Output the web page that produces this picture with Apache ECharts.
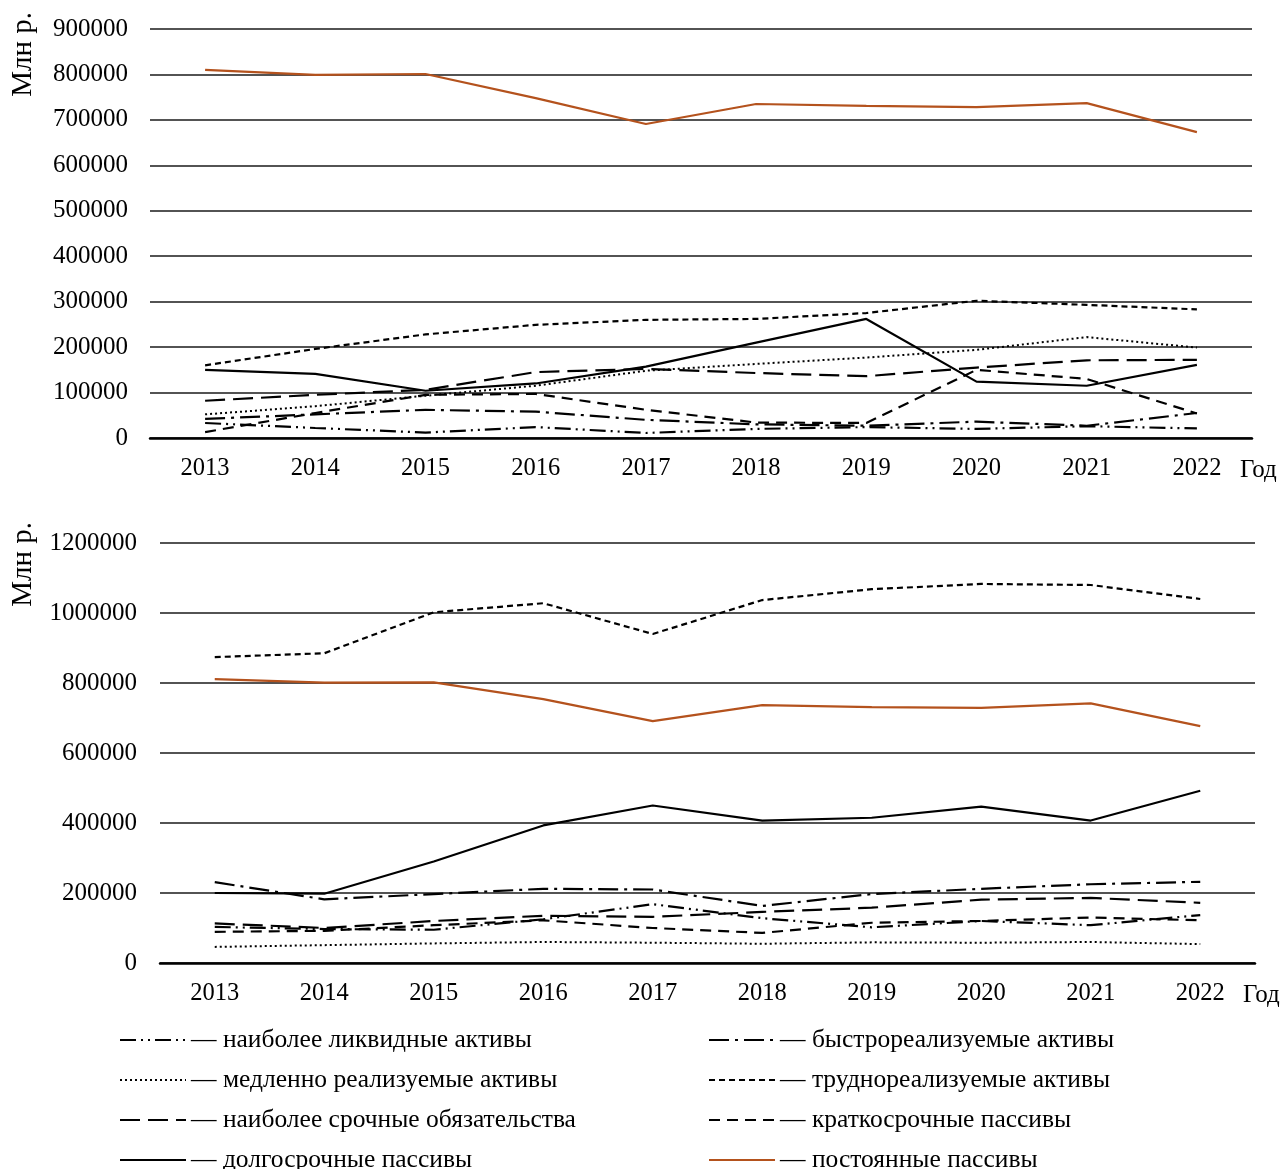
<!DOCTYPE html>
<html><head><meta charset="utf-8">
<script src="https://cdn.jsdelivr.net/npm/echarts@6/dist/echarts.min.js"></script>
<style>html,body{margin:0;padding:0;background:#fff}#c{width:1285px;height:1169px}</style>
</head><body><div id="c"></div>
<script>
const years = ['2013','2014','2015','2016','2017','2018','2019','2020','2021','2022'];
const names = [
  'наиболее ликвидные активы',
  'быстрореализуемые активы',
  'медленно реализуемые активы',
  'труднореализуемые активы',
  'наиболее срочные обязательства',
  'краткосрочные пассивы',
  'долгосрочные пассивы',
  'постоянные пассивы'
];
// Top chart values
const topLiquid    = [33000, 22000, 12000, 24000, 11000, 20000, 24000, 20000, 26000, 21000];
const topQuick     = [42000, 52000, 62000, 58000, 40000, 30000, 27000, 36000, 27000, 55000];
const topSlow      = [52000, 70000, 93000, 115000, 148000, 163000, 177000, 194000, 222000, 199000];
const topHard      = [160000, 196000, 228000, 249000, 260000, 262000, 275000, 302000, 293000, 283000];
const topUrgent    = [82000, 95000, 106000, 145000, 152000, 143000, 136000, 155000, 171000, 172000];
const topShort     = [13000, 55000, 95000, 97000, 62000, 34000, 33000, 150000, 130000, 54000];
const topLong      = [150000, 141000, 104000, 120000, 157000, 210000, 262000, 124000, 115000, 161000];
const topPermanent = [810000, 799000, 801000, 748000, 691000, 735000, 731000, 728000, 737000, 673000];
// Bottom chart values
const botLiquid    = [103000, 97000, 95000, 125000, 168000, 128000, 102000, 120000, 108000, 137000];
const botQuick     = [231000, 182000, 197000, 212000, 210000, 163000, 197000, 212000, 225000, 232000];
const botSlow      = [46000, 51000, 56000, 60000, 58000, 55000, 59000, 58000, 60000, 54000];
const botHard      = [874000, 885000, 1002000, 1028000, 940000, 1037000, 1068000, 1083000, 1080000, 1040000];
const botUrgent    = [113000, 100000, 120000, 135000, 132000, 146000, 158000, 181000, 186000, 172000];
const botShort     = [89000, 92000, 108000, 122000, 100000, 86000, 115000, 120000, 130000, 122000];
const botLong      = [200000, 198000, 290000, 393000, 450000, 407000, 415000, 447000, 407000, 492000];
const botPermanent = [811000, 801000, 802000, 754000, 691000, 737000, 731000, 729000, 742000, 677000];

const topTicks = [0, 900000, 100000];
const botTicks = [0, 1200000, 200000];

const FONT = 'Liberation Serif';
const styles = [
  {color:'#000', width:2.2, type:[16,5,2,5,2,5]},
  {color:'#000', width:2.2, type:[20,6,3,6]},
  {color:'#000', width:2, type:[2,3]},
  {color:'#000', width:2.2, type:[6,4]},
  {color:'#000', width:2.2, type:[20,8]},
  {color:'#000', width:2.2, type:[11,7]},
  {color:'#000', width:2.2, type:'solid'},
  {color:'#B4521D', width:2.2, type:'solid'}
];
const topData = [topLiquid, topQuick, topSlow, topHard, topUrgent, topShort, topLong, topPermanent];
const botData = [botLiquid, botQuick, botSlow, botHard, botUrgent, botShort, botLong, botPermanent];

const series = [];
[topData, botData].forEach((set, gi) => {
  set.forEach((d, i) => {
    series.push({
      name: names[i], type: 'line', xAxisIndex: gi, yAxisIndex: gi,
      data: d, symbol: 'none', smooth: false, animation: false,
      lineStyle: {color: styles[i].color, width: styles[i].width, type: styles[i].type},
      itemStyle: {color: styles[i].color},
      z: i === 7 ? 5 : 3
    });
  });
});

function xAx(gi) {
  return {
    type: 'category', gridIndex: gi, data: years, boundaryGap: true,
    axisLine: {show: true, lineStyle: {color: '#000', width: 2.5}},
    axisTick: {show: false},
    axisLabel: {color: '#000', fontFamily: FONT, fontSize: 24.5, margin: 18},
    name: 'Год', nameLocation: 'end', nameGap: -12,
    nameTextStyle: {color: '#000', fontFamily: FONT, fontSize: 25, verticalAlign: 'top', align: 'left', padding: [20, 0, 0, 0]}
  };
}
function yAx(gi, t, margin) {
  return {
    type: 'value', gridIndex: gi, min: t[0], max: t[1], interval: t[2],
    axisLine: {show: false}, axisTick: {show: false},
    axisLabel: {color: '#000', fontFamily: FONT, fontSize: 25, margin: margin, formatter: v => String(v)},
    splitLine: {show: true, lineStyle: {color: '#1a1a1a', width: 1.6}}
  };
}

const legendCommon = {
  orient: 'vertical', itemWidth: 66, itemHeight: 14, itemGap: 14, height: 200,
  itemStyle: {opacity: 0},
  textStyle: {color: '#000', fontFamily: FONT, fontSize: 25.5, lineHeight: 26},
  formatter: n => '— ' + n,
  selectedMode: false
};

const chart = echarts.init(document.getElementById('c'), null, {renderer: 'canvas'});
chart.setOption({
  backgroundColor: '#fff',
  animation: false,
  grid: [
    {left: 150, right: 33, top: 29, height: 409},
    {left: 160, right: 30, top: 543, height: 420}
  ],
  xAxis: [xAx(0), xAx(1)],
  yAxis: [yAx(0, topTicks, 22), yAx(1, botTicks, 23)],
  legend: [
    Object.assign({}, legendCommon, {left: 114, top: 1022, data: [names[0], names[2], names[4], names[6]]}),
    Object.assign({}, legendCommon, {left: 703, top: 1022, data: [names[1], names[3], names[5], names[7]]})
  ],
  graphic: [
    {type: 'text', left: 9, top: 12, rotation: Math.PI / 2, style: {text: 'Млн р.', fill: '#000', font: '29px "Liberation Serif"'}},
    {type: 'text', left: 9, top: 522, rotation: Math.PI / 2, style: {text: 'Млн р.', fill: '#000', font: '29px "Liberation Serif"'}}
  ],
  series: series
});
</script></body></html>
